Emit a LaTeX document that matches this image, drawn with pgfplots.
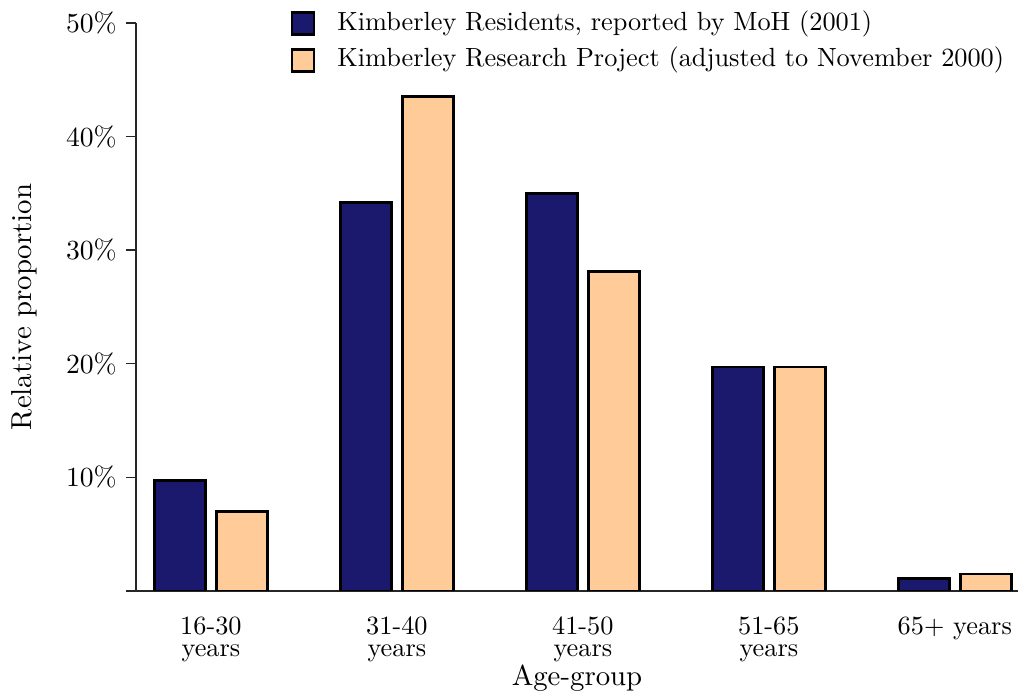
\documentclass[border=0pt]{standalone}
\usepackage{pgfplots}
\pgfplotsset{compat=1.18}
\definecolor{navyb}{RGB}{27,25,110}
\definecolor{peach}{RGB}{255,204,153}
\newcommand{\xtkfont}{\fontsize{10}{12}\selectfont}
\newcommand{\ytkfont}{\fontsize{10.5}{12.5}\selectfont}
\newcommand{\lblfont}{\fontsize{10.95}{13}\selectfont}
\begin{document}
\begin{tikzpicture}
\begin{axis}[
  at={(0pt,0pt)}, anchor=south west,
  scale only axis,
  width=335.4pt, height=216pt,
  xmin=-0.403, xmax=4.34,
  ymin=0, ymax=50,
  axis x line=bottom, axis y line=left,
  axis line style={-, black!85, line width=0.5pt},
  xtick={0,1,2,3,4},
  xticklabels={16-30\\[-3.6pt]years,31-40\\[-3.6pt]years,41-50\\[-3.6pt]years,51-65\\[-3.6pt]years,65+ years},
  xticklabel style={align=center, font=\xtkfont, yshift=-2.5pt},
  xtick style={draw=none},
  ytick={0,10,20,30,40,50},
  yticklabels={,10\%,20\%,30\%,40\%,50\%},
  yticklabel style={font=\ytkfont},
  ytick style={black!85, line width=0.5pt},
  tick align=outside,
  major tick length=3.8pt,
  xlabel={Age-group},
  xlabel style={font=\lblfont, yshift=5.8pt},
  ylabel={Relative proportion},
  ylabel style={font=\lblfont, yshift=4pt},
  legend style={draw=none, at={(rel axis cs:0.1746,1.023)}, anchor=north west, font=\xtkfont, row sep=4pt, column sep=8.4pt, inner sep=0pt, nodes={inner sep=0pt, text height=7.5pt, text depth=2.5pt}},
  legend cell align=left,
  legend image code/.code={\draw[#1, line width=1pt] (0pt,-4.2pt) rectangle (8.4pt,4.2pt);},
  bar width=0.274,
]
\addplot[ybar, bar shift=-0.167, fill=navyb, draw=black, line width=1pt] coordinates {(0,9.7) (1,34.2) (2,35.0) (3,19.7) (4,1.1)};
\addlegendentry{Kimberley Residents, reported by MoH (2001)}
\addplot[ybar, bar shift=0.167, fill=peach, draw=black, line width=1pt] coordinates {(0,7.0) (1,43.5) (2,28.1) (3,19.7) (4,1.5)};
\addlegendentry{Kimberley Research Project (adjusted to November 2000)}
\end{axis}
\pgfresetboundingbox
\path[use as bounding box] (-51.7pt,-38pt) rectangle (335.4pt,224.7pt);
\end{tikzpicture}
\end{document}
